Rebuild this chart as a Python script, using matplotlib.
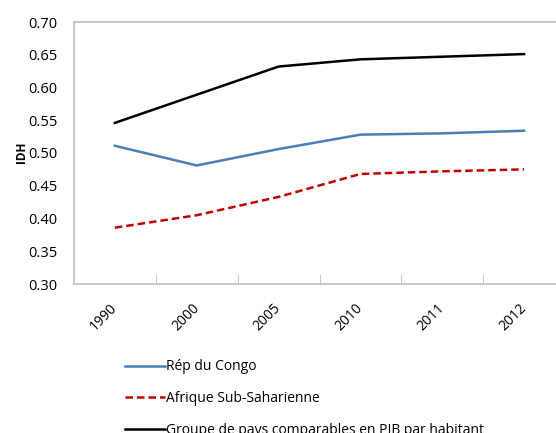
import matplotlib.pyplot as plt
from matplotlib.ticker import FixedLocator, FormatStrFormatter
from matplotlib.transforms import ScaledTranslation

years = ["1990", "2000", "2005", "2010", "2011", "2012"]
congo = [0.511, 0.481, 0.506, 0.528, 0.530, 0.534]
afrique = [0.386, 0.405, 0.433, 0.468, 0.472, 0.475]
groupe = [0.546, 0.589, 0.632, 0.643, 0.647, 0.651]

labels = ["Rép du Congo", "Afrique Sub-Saharienne",
          "Groupe de pays comparables en PIB par habitant"]

plt.rcParams["font.family"] = ["Open Sans", "DejaVu Sans"]

fig = plt.figure(figsize=(5.56, 4.33), dpi=100)
fig.patch.set_facecolor("white")
ax = fig.add_axes([74 / 556, 149 / 433, 491 / 556, 262 / 433])

x = list(range(len(years)))
l1, = ax.plot(x, congo, color="#4A7EBB", lw=1.8)
l2, = ax.plot(x, afrique, color="#C00000", lw=1.8, ls=(0, (3, 1.6)))
l3, = ax.plot(x, groupe, color="black", lw=1.8)

ax.set_xlim(-0.5, len(years) - 0.5)
ax.set_ylim(0.30, 0.70)
ax.set_yticks([0.30, 0.35, 0.40, 0.45, 0.50, 0.55, 0.60, 0.65, 0.70])
ax.yaxis.set_major_formatter(FormatStrFormatter("%.2f"))
ax.tick_params(axis="y", length=0, pad=12, labelsize=10.5)

ax.set_xticks(x)
ax.set_xticklabels(years, rotation=45, ha="right", rotation_mode="anchor", fontsize=10)
ax.tick_params(axis="x", which="major", length=0, pad=12)
shift = ScaledTranslation(-5 / 100, 0, fig.dpi_scale_trans)
for lab in ax.get_xticklabels():
    lab.set_transform(lab.get_transform() + shift)
ax.xaxis.set_minor_locator(FixedLocator([i + 0.5 for i in x]))
ax.tick_params(axis="x", which="minor", direction="in", length=7, color="#BFBFBF")

for side in ax.spines.values():
    side.set_color("#BFBFBF")
    side.set_linewidth(1.2)

fig.text(22 / 556, 1 - 152 / 433, "IDH", rotation=90, ha="center", va="center",
         fontsize=8.5, fontweight="bold")

fig.legend([l1, l2, l3], labels, loc="upper left",
           bbox_to_anchor=(112 / 556, 1 - 347 / 433), frameon=False,
           fontsize=10, handlelength=2.9, handletextpad=0.1, labelspacing=1.2)

fig.savefig("out.png", dpi=100)
